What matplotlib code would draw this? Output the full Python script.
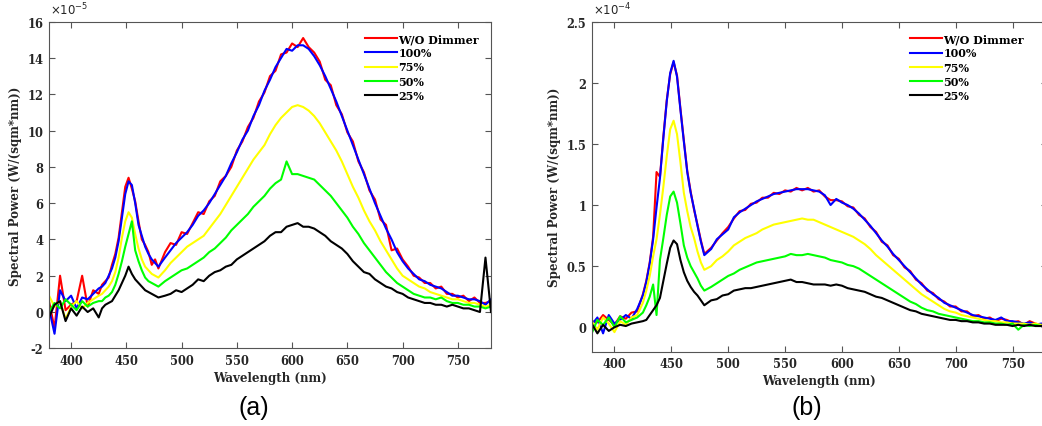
import numpy as np
import matplotlib
matplotlib.use("Agg")
import matplotlib.pyplot as plt

# ---------------- data ----------------
wavelength = [380, 385, 390, 395, 400, 405, 410, 415, 420, 425,
              428, 431, 434, 437, 440, 443, 446, 449, 452, 455, 458, 461, 464, 467, 470, 473, 476, 479,
              485, 490, 495, 500, 505, 510, 515, 520, 525, 530, 535, 540, 545, 550, 555, 560, 565, 570,
              575, 580, 585, 590, 595, 600, 605, 610, 615, 620, 625, 630, 635, 640, 645, 650, 655, 660,
              665, 670, 675, 680, 685, 690, 695, 700, 705, 710, 715, 720, 725, 730, 735, 740, 745, 750,
              755, 760, 765, 770, 775, 780]

series_labels = ["W/O Dimmer", "100%", "75%", "50%", "25%"]

# Panel (a), units of 1e-5 W/(sqm*nm)
a_wo = [0.6, -0.9, 2.0, 0.1, 0.4, 0.6, 2.0, 0.3, 1.2, 1.0,
        1.5, 1.7, 1.9, 2.6, 3.2, 4.1, 5.5, 6.9, 7.4, 6.8, 6.1, 5.0, 4.0, 3.7, 3.3, 2.6, 2.9, 2.4,
        3.3, 3.8, 3.7, 4.4, 4.3, 4.9, 5.5, 5.4, 6.1, 6.4, 7.2, 7.5, 8.0, 8.9, 9.4, 10.2, 10.7, 11.6,
        12.1, 13.0, 13.3, 14.2, 14.3, 14.8, 14.6, 15.1, 14.6, 14.3, 13.8, 12.8, 12.5, 11.4, 10.9, 9.9, 9.4, 8.3,
        7.7, 6.7, 6.2, 5.1, 4.8, 3.4, 3.5, 2.9, 2.5, 2.0, 1.9, 1.6, 1.6, 1.3, 1.4, 1.0, 1.0, 0.8,
        0.9, 0.6, 0.8, 0.5, 0.5, 0.6]
a_100 = [0.2, -1.2, 1.2, 0.6, 0.9, 0.2, 0.8, 0.7, 1.0, 1.3,
         1.4, 1.6, 2.0, 2.4, 3.0, 3.9, 5.2, 6.5, 7.2, 7.0, 6.0, 4.8, 4.2, 3.6, 3.2, 2.9, 2.7, 2.5,
         3.0, 3.4, 3.8, 4.1, 4.4, 4.8, 5.3, 5.6, 6.0, 6.5, 7.0, 7.5, 8.2, 8.8, 9.5, 10.0, 10.8, 11.4,
         12.2, 12.8, 13.5, 14.0, 14.5, 14.4, 14.7, 14.7, 14.5, 14.1, 13.6, 13.0, 12.3, 11.6, 10.8, 10.0, 9.2, 8.4,
         7.6, 6.8, 6.0, 5.3, 4.6, 4.0, 3.3, 2.8, 2.4, 2.1, 1.8, 1.7, 1.5, 1.4, 1.3, 1.1, 0.9, 0.9,
         0.8, 0.7, 0.7, 0.6, 0.4, 0.7]
a_75 = [0.9, 0.3, 0.6, -0.4, 0.3, 0.6, 0.2, 0.5, 0.7, 0.9,
        1.0, 1.2, 1.4, 1.7, 2.2, 3.0, 4.1, 5.0, 5.5, 5.2, 4.3, 3.5, 2.9, 2.5, 2.3, 2.1, 2.0, 1.9,
        2.3, 2.7, 3.0, 3.3, 3.6, 3.8, 4.0, 4.2, 4.6, 5.0, 5.4, 5.9, 6.4, 6.9, 7.4, 7.9, 8.4, 8.8,
        9.2, 9.8, 10.3, 10.7, 11.0, 11.3, 11.4, 11.3, 11.1, 10.8, 10.4, 9.9, 9.4, 8.9, 8.3, 7.6, 6.9, 6.3,
        5.6, 5.0, 4.5, 3.9, 3.4, 2.9, 2.4, 2.0, 1.8, 1.6, 1.4, 1.3, 1.1, 1.0, 0.9, 0.8, 0.7, 0.7,
        0.6, 0.5, 0.5, 0.4, 0.3, 0.4]
a_50 = [0.0, 0.5, 0.2, 0.7, 0.4, 0.1, 0.6, 0.3, 0.5, 0.6,
        0.6, 0.8, 0.9, 1.1, 1.5, 2.1, 2.8, 3.6, 4.3, 5.0, 3.4, 2.8, 2.3, 1.9, 1.7, 1.6, 1.5, 1.4,
        1.7, 1.9, 2.1, 2.3, 2.4, 2.6, 2.8, 3.0, 3.3, 3.5, 3.8, 4.1, 4.5, 4.8, 5.1, 5.4, 5.8, 6.1,
        6.4, 6.8, 7.1, 7.3, 8.3, 7.6, 7.6, 7.5, 7.4, 7.3, 7.0, 6.7, 6.4, 6.0, 5.6, 5.2, 4.7, 4.3,
        3.8, 3.4, 3.0, 2.6, 2.2, 1.9, 1.6, 1.4, 1.2, 1.0, 0.9, 0.8, 0.8, 0.7, 0.8, 0.6, 0.5, 0.5,
        0.4, 0.4, 0.3, 0.3, 0.2, 0.3]
a_25 = [-0.3, 0.4, 0.6, -0.5, 0.2, -0.2, 0.3, 0.0, 0.2, -0.3,
        0.2, 0.4, 0.5, 0.6, 0.9, 1.2, 1.6, 2.0, 2.5, 2.1, 1.8, 1.6, 1.4, 1.2, 1.1, 1.0, 0.9, 0.8,
        0.9, 1.0, 1.2, 1.1, 1.3, 1.5, 1.8, 1.7, 2.0, 2.2, 2.3, 2.5, 2.6, 2.9, 3.1, 3.3, 3.5, 3.7,
        3.9, 4.2, 4.4, 4.4, 4.7, 4.8, 4.9, 4.7, 4.7, 4.6, 4.4, 4.2, 3.9, 3.7, 3.5, 3.2, 2.8, 2.5,
        2.2, 2.1, 1.8, 1.6, 1.4, 1.3, 1.1, 1.0, 0.8, 0.7, 0.6, 0.5, 0.5, 0.4, 0.4, 0.3, 0.4, 0.3,
        0.2, 0.2, 0.1, 0.0, 3.0, 0.0]

# Panel (b), units of 1e-4 W/(sqm*nm)
b_wo = [0.05, 0.04, 0.10, 0.06, 0.02, 0.09, 0.07, 0.12, 0.13, 0.27,
        0.38, 0.53, 0.74, 1.27, 1.23, 1.56, 1.86, 2.07, 2.17, 2.06, 1.79, 1.53, 1.28, 1.11, 0.96, 0.84, 0.71, 0.60,
        0.65, 0.71, 0.77, 0.82, 0.89, 0.95, 0.96, 1.01, 1.02, 1.06, 1.06, 1.10, 1.09, 1.12, 1.11, 1.14, 1.12, 1.14,
        1.11, 1.12, 1.07, 1.04, 1.04, 1.03, 0.99, 0.98, 0.92, 0.89, 0.82, 0.78, 0.70, 0.67, 0.59, 0.56, 0.49, 0.46,
        0.39, 0.36, 0.30, 0.28, 0.23, 0.21, 0.17, 0.17, 0.13, 0.13, 0.09, 0.10, 0.07, 0.08, 0.05, 0.07, 0.06, 0.04,
        0.05, 0.02, 0.05, 0.03, 0.02, 0.04]
b_100 = [0.02, 0.08, -0.05, 0.10, 0.03, 0.06, 0.10, 0.07, 0.15, 0.26,
         0.37, 0.52, 0.72, 0.98, 1.22, 1.55, 1.85, 2.08, 2.18, 2.05, 1.78, 1.52, 1.27, 1.10, 0.97, 0.83, 0.70, 0.59,
         0.64, 0.72, 0.76, 0.80, 0.90, 0.94, 0.97, 1.00, 1.03, 1.05, 1.07, 1.09, 1.10, 1.11, 1.12, 1.13, 1.13, 1.13,
         1.12, 1.11, 1.08, 1.00, 1.05, 1.02, 1.00, 0.97, 0.93, 0.88, 0.83, 0.77, 0.71, 0.66, 0.60, 0.55, 0.50, 0.45,
         0.40, 0.35, 0.31, 0.27, 0.24, 0.20, 0.18, 0.16, 0.14, 0.12, 0.10, 0.09, 0.08, 0.07, 0.06, 0.08, 0.05, 0.05,
         0.04, 0.03, 0.04, 0.02, 0.03, 0.03]
b_75 = [0.05, -0.02, 0.08, 0.03, -0.04, 0.05, 0.02, 0.08, 0.10, 0.20,
        0.30, 0.42, 0.58, 0.72, 0.92, 1.15, 1.40, 1.62, 1.69, 1.58, 1.35, 1.10, 0.95, 0.82, 0.73, 0.62, 0.53, 0.47,
        0.50, 0.55, 0.58, 0.62, 0.67, 0.70, 0.73, 0.75, 0.77, 0.80, 0.82, 0.84, 0.85, 0.86, 0.87, 0.88, 0.89, 0.88,
        0.88, 0.86, 0.84, 0.82, 0.80, 0.78, 0.76, 0.74, 0.71, 0.68, 0.64, 0.59, 0.55, 0.51, 0.47, 0.43, 0.39, 0.35,
        0.31, 0.27, 0.24, 0.21, 0.18, 0.15, 0.13, 0.12, 0.10, 0.09, 0.08, 0.07, 0.06, 0.05, 0.05, 0.04, 0.04, 0.03,
        0.03, 0.03, 0.02, 0.03, 0.02, 0.02]
b_50 = [-0.05, 0.06, 0.02, 0.08, 0.00, 0.09, 0.04, 0.06, 0.08, 0.12,
        0.18, 0.25, 0.35, 0.10, 0.55, 0.73, 0.92, 1.07, 1.11, 1.02, 0.85, 0.67, 0.57, 0.50, 0.45, 0.40, 0.34, 0.30,
        0.33, 0.36, 0.39, 0.42, 0.44, 0.47, 0.49, 0.51, 0.53, 0.54, 0.55, 0.56, 0.57, 0.58, 0.60, 0.59, 0.59, 0.60,
        0.59, 0.58, 0.57, 0.55, 0.54, 0.53, 0.51, 0.50, 0.48, 0.45, 0.42, 0.39, 0.36, 0.33, 0.30, 0.27, 0.24, 0.21,
        0.19, 0.16, 0.14, 0.13, 0.11, 0.10, 0.09, 0.08, 0.07, 0.06, 0.05, 0.05, 0.04, 0.04, 0.03, 0.03, 0.02, 0.03,
        -0.02, 0.02, 0.01, 0.02, 0.01, 0.02]
b_25 = [0.03, -0.05, 0.02, -0.03, 0.00, 0.02, 0.01, 0.03, 0.04, 0.05,
        0.06, 0.10, 0.14, 0.18, 0.24, 0.38, 0.52, 0.65, 0.71, 0.68, 0.55, 0.45, 0.38, 0.33, 0.29, 0.26, 0.22, 0.18,
        0.22, 0.23, 0.26, 0.27, 0.30, 0.31, 0.32, 0.32, 0.33, 0.34, 0.35, 0.36, 0.37, 0.38, 0.39, 0.37, 0.37, 0.36,
        0.35, 0.35, 0.35, 0.34, 0.35, 0.34, 0.32, 0.31, 0.30, 0.29, 0.27, 0.25, 0.24, 0.22, 0.20, 0.18, 0.16, 0.14,
        0.13, 0.11, 0.10, 0.09, 0.08, 0.07, 0.06, 0.06, 0.05, 0.05, 0.04, 0.04, 0.03, 0.03, 0.02, 0.02, 0.02, 0.01,
        0.02, 0.01, 0.02, 0.01, 0.01, 0.02]

x_ticks = [400, 450, 500, 550, 600, 650, 700, 750]
a_yticks = [-2, 0, 2, 4, 6, 8, 10, 12, 14, 16]
a_ytick_labels = ["-2", "0", "2", "4", "6", "8", "10", "12", "14", "16"]
b_yticks = [0, 0.5, 1, 1.5, 2, 2.5]
b_ytick_labels = ["0", "0.5", "1", "1.5", "2", "2.5"]

colors = ["#ff0000", "#0000ff", "#ffff00", "#00ff00", "#000000"]

# ---------------- figure ----------------
W, H = 1042, 427
fig = plt.figure(figsize=(W / 100, H / 100), dpi=100)

def px_axes(x0, y0, x1, y1):
    return fig.add_axes([x0 / W, 1 - y1 / H, (x1 - x0) / W, (y1 - y0) / H])

ax_a = px_axes(49, 22.7, 491, 349.3)
ax_b = px_axes(591.7, 22.7, 1046.7, 352.7)

tick_font = dict(family="DejaVu Serif", weight="bold", size=8.3)
spine_col = "#555555"
text_col = "#262626"

def style(ax, yticks, ylabels, ylim, mult):
    ax.set_xlim(380, 780)
    ax.set_ylim(*ylim)
    ax.set_xticks(x_ticks)
    ax.set_xticklabels([str(t) for t in x_ticks], fontdict=tick_font, color=text_col)
    ax.set_yticks(yticks)
    ax.set_yticklabels(ylabels, fontdict=tick_font, color=text_col)
    ax.tick_params(direction="in", length=4, width=0.8, top=True, right=True,
                   color=spine_col, pad=4)
    for s in ax.spines.values():
        s.set_color(spine_col)
        s.set_linewidth(0.8)
    ax.set_xlabel("Wavelength (nm)", fontdict=dict(family="DejaVu Serif", weight="bold", size=8.6),
                  color=text_col, labelpad=3)
    ax.set_ylabel("Spectral Power (W/(sqm*nm))", fontdict=dict(family="DejaVu Serif", weight="bold", size=8.6),
                  color=text_col, labelpad=4)
    ax.text(0.003, 1.012, r"$\times10^{%d}$" % mult, transform=ax.transAxes,
            ha="left", va="bottom", fontsize=8.5, color=text_col)

def plot_panel(ax, series):
    handles = []
    for vals, c, lab in zip(series, colors, series_labels):
        h, = ax.plot(wavelength, vals, color=c, lw=1.5, label=lab)
        handles.append(h)
    leg = ax.legend(handles=handles, loc="upper right", frameon=False,
                    prop=dict(family="DejaVu Serif", weight="bold", size=8),
                    handlelength=2.9, handletextpad=0.1, labelspacing=0.28,
                    borderaxespad=0.2)
    return leg

plot_panel(ax_a, [a_wo, a_100, a_75, a_50, a_25])
style(ax_a, a_yticks, a_ytick_labels, (-2, 16), -5)
ax_a.legend_.set_bbox_to_anchor((0.988, 0.985), transform=ax_a.transAxes)

plot_panel(ax_b, [b_wo, b_100, b_75, b_50, b_25])
style(ax_b, b_yticks, b_ytick_labels, (-0.2, 2.5), -4)
ax_b.legend_.set_bbox_to_anchor((0.965, 0.985), transform=ax_b.transAxes)

fig.text(254 / W, 1 - 408 / H, "(a)", ha="center", va="center",
         fontsize=18, family="Liberation Sans", color="black")
fig.text(807 / W, 1 - 408 / H, "(b)", ha="center", va="center",
         fontsize=18, family="Liberation Sans", color="black")

fig.savefig("out.png", dpi=100)
